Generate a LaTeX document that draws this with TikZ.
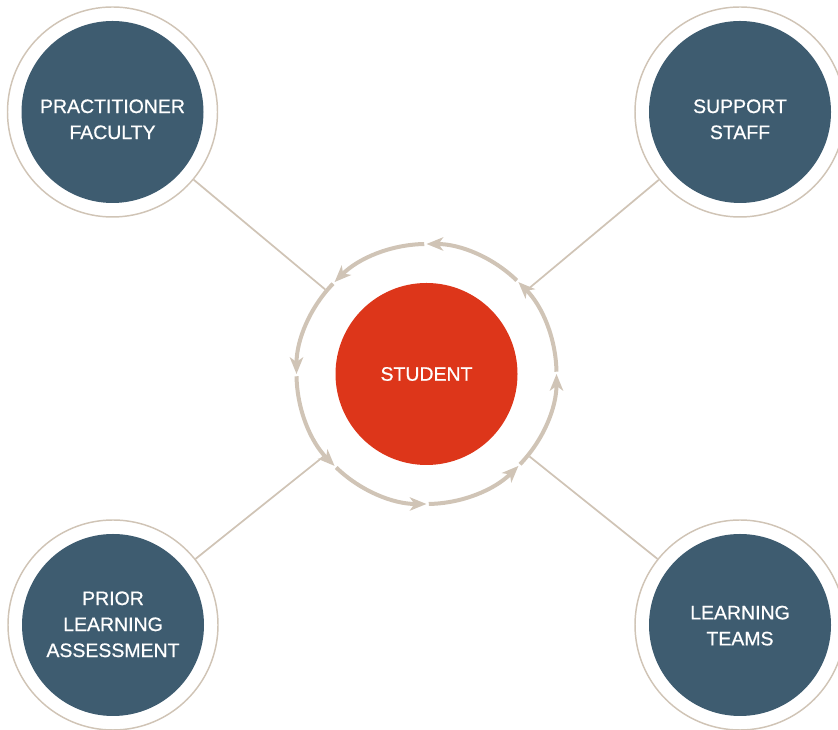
\documentclass[tikz,border=0pt]{standalone}
\usepackage{fontspec}
\setmainfont{Liberation Sans}
\newfontfamily\labelfont{Liberation Sans}[FakeBold=0.7]
\usetikzlibrary{arrows.meta,calc}
\definecolor{slate}{HTML}{3E5C70}
\definecolor{brick}{HTML}{DD361A}
\definecolor{sand}{HTML}{D0C4B6}
\begin{document}
\begin{tikzpicture}[x=0.75pt,y=0.75pt,
  halo/.style={circle, draw=sand, line width=1.1pt, minimum size=157.5pt, inner sep=0pt},
  disk/.style={circle, fill=slate, minimum size=136.5pt, inner sep=0pt},
  roletext/.style={text=white, align=center, inner sep=0pt, font=\labelfont\fontsize{14.6pt}{19.5pt}\selectfont},
  hub/.style={circle, fill=brick, minimum size=136.5pt, inner sep=0pt, text=white, font=\labelfont\fontsize{14.6pt}{19.5pt}\selectfont},
  ringarc/.style={draw=sand, line width=3pt, -{Stealth[length=12.5pt,width=10pt,inset=3.5pt]}},
  conn/.style={draw=sand, line width=1.3pt}]
\useasboundingbox (0,0) rectangle (838,730);
\clip (0,0) rectangle (838,730);

% centre
\node[hub] (st) at (426.5,356) {STUDENT};

% corner roles
\node[disk] (pf) at (112.5,618) {};
\node[halo] (pfo) at (pf) {};
\node[roletext] (pfl) at ([yshift=-5.5pt]pf.center) {PRACTITIONER\\FACULTY};

\node[disk] (ss) at (740,618) {};
\node[halo] (sso) at (ss) {};
\node[roletext] (ssl) at ([yshift=-5.5pt]ss.center) {SUPPORT\\STAFF};

\node[disk] (pl) at (113,105) {};
\node[halo] (plo) at (pl) {};
\node[roletext] (pll) at ([yshift=0.5pt]pl.center) {PRIOR\\LEARNING\\ASSESSMENT};

\node[disk] (lt) at (740,105) {};
\node[halo] (lto) at (lt) {};
\node[roletext] (ltl) at ([yshift=-0.5pt]lt.center) {LEARNING\\TEAMS};

% cycle ring around the student
\foreach \a in {0,45,...,315}
  \draw[ringarc] ($(st.center)+(\a+1:97.5pt)$) arc[start angle=\a+1, end angle=\a+45, radius=97.5pt];

% connectors
\coordinate (epf) at ($(st.center)!99pt!(pf.center)$);
\coordinate (ess) at ($(st.center)!99pt!(ss.center)$);
\coordinate (epl) at ($(st.center)!99pt!(pl.center)$);
\coordinate (elt) at ($(st.center)!99pt!(lt.center)$);
\draw[conn] (pfo) -- (epf);
\draw[conn] (sso) -- (ess);
\draw[conn] (plo) -- (epl);
\draw[conn] (lto) -- (elt);
\end{tikzpicture}
\end{document}
